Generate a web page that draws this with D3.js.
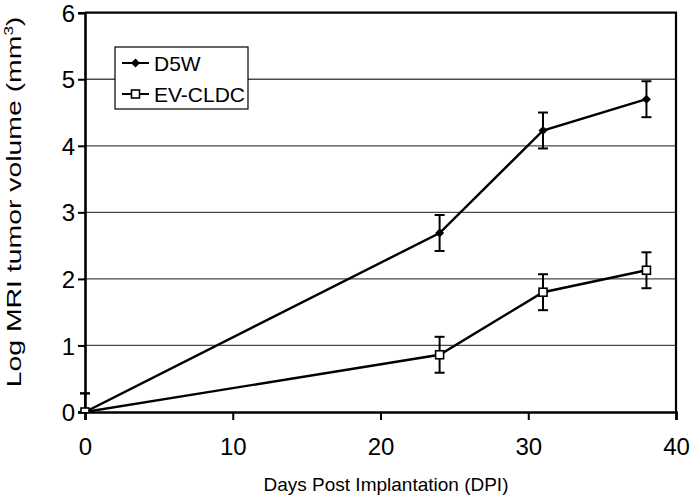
<!DOCTYPE html>
<html><head><meta charset="utf-8">
<script src="https://cdn.jsdelivr.net/npm/d3@7"></script>
<style>body{margin:0;background:#fff}svg{display:block}text{font-family:"Liberation Sans",Arial,sans-serif}</style>
</head><body>
<script>
const days = [0, 24, 31, 38];
const seriesNames = ["D5W", "EV-CLDC"];
const d5w = [0, 2.69, 4.23, 4.70];
const evcldc = [0, 0.86, 1.80, 2.13];
const d5wErr = [0.28, 0.27, 0.27, 0.27];
const evErr = [0.28, 0.27, 0.27, 0.27];
const xTicks = [0, 10, 20, 30, 40];
const yTicks = [0, 1, 2, 3, 4, 5, 6];

const W = 691, H = 497;
const m = {left: 85, right: 676, top: 12.7, bottom: 412};
const svg = d3.select("body").append("svg").attr("width", W).attr("height", H);
const x = d3.scaleLinear().domain([0, 40]).range([m.left, m.right]);
const y = d3.scaleLinear().domain([0, 6]).range([m.bottom, m.top]);

// gridlines
svg.append("g").selectAll("line").data(yTicks.filter(d => d > 0 && d < 6)).join("line")
  .attr("x1", m.left).attr("x2", m.right).attr("y1", d => y(d)).attr("y2", d => y(d))
  .attr("stroke", "#4a4a4a").attr("stroke-width", 1.3);

// frame top/right
svg.append("path").attr("d", `M${m.left},${m.top}H${m.right}V${m.bottom}`)
  .attr("fill", "none").attr("stroke", "#000").attr("stroke-width", 2.2);

// axes
const gx = svg.append("g").attr("transform", `translate(0,${m.bottom})`)
  .call(d3.axisBottom(x).tickValues(xTicks).tickFormat(d3.format("d")).tickSize(8).tickPadding(18));
const gy = svg.append("g").attr("transform", `translate(${m.left},0)`)
  .call(d3.axisLeft(y).tickValues(yTicks).tickFormat(d3.format("d")).tickSize(7).tickPadding(3));
[gx, gy].forEach(g => {
  g.select(".domain").attr("stroke", "#000").attr("stroke-width", 2.6);
  g.selectAll(".tick line").attr("stroke", "#000").attr("stroke-width", 2);
  g.selectAll(".tick text").attr("font-size", 24).attr("fill", "#000")
    .attr("font-family", "Liberation Sans, Arial, sans-serif");
});
gy.selectAll(".tick text").attr("dy", "0.36em");
gx.selectAll(".tick text").attr("dy", "0.71em");

// clip
svg.append("clipPath").attr("id", "clip").append("rect")
  .attr("x", m.left - 10).attr("y", 0).attr("width", m.right - m.left + 20).attr("height", m.bottom);

const series = [
  {name: seriesNames[0], vals: d5w, err: d5wErr, marker: "diamond"},
  {name: seriesNames[1], vals: evcldc, err: evErr, marker: "square"}
];
const line = d3.line().x(d => x(d[0])).y(d => y(d[1]));
const plot = svg.append("g").attr("clip-path", "url(#clip)");

function drawMarker(g, type, cx, cy) {
  if (type === "diamond") {
    g.append("path").attr("d", `M${cx},${cy-4.5}L${cx+4.5},${cy}L${cx},${cy+4.5}L${cx-4.5},${cy}Z`).attr("fill", "#000");
  } else {
    g.append("rect").attr("x", cx - 4).attr("y", cy - 4).attr("width", 8).attr("height", 8)
      .attr("fill", "#fff").attr("stroke", "#000").attr("stroke-width", 1.6);
  }
}

series.forEach(s => {
  const pts = days.map((d, i) => [d, s.vals[i]]);
  days.forEach((d, i) => {
    const cx = x(d), y1 = y(s.vals[i] + s.err[i]), y0 = Math.min(y(s.vals[i] - s.err[i]), m.bottom);
    plot.append("line").attr("x1", cx).attr("x2", cx).attr("y1", y1).attr("y2", y0).attr("stroke", "#000").attr("stroke-width", 2);
    plot.append("line").attr("x1", cx - 5).attr("x2", cx + 5).attr("y1", y1).attr("y2", y1).attr("stroke", "#000").attr("stroke-width", 2);
    if (y(s.vals[i] - s.err[i]) <= m.bottom)
      plot.append("line").attr("x1", cx - 5).attr("x2", cx + 5).attr("y1", y0).attr("y2", y0).attr("stroke", "#000").attr("stroke-width", 2);
  });
  plot.append("path").attr("d", line(pts)).attr("fill", "none").attr("stroke", "#000").attr("stroke-width", 2.4);
  pts.forEach(p => drawMarker(plot, s.marker, x(p[0]), y(p[1])));
});

// legend
const lg = svg.append("g");
lg.append("rect").attr("x", 115).attr("y", 47).attr("width", 133).attr("height", 62)
  .attr("fill", "#fff").attr("stroke", "#000").attr("stroke-width", 1.2);
series.forEach((s, i) => {
  const ly = 63 + i * 31;
  lg.append("line").attr("x1", 122).attr("x2", 149).attr("y1", ly).attr("y2", ly).attr("stroke", "#000").attr("stroke-width", 2);
  drawMarker(lg, s.marker, 135.5, ly);
  lg.append("text").attr("x", 154).attr("y", ly).attr("dy", "0.36em").attr("font-size", 21).text(s.name);
});

// axis titles
svg.append("text").attr("x", 386).attr("y", 491).attr("text-anchor", "middle").attr("font-size", 19)
  .text("Days Post Implantation (DPI)");
const yt = svg.append("text").attr("transform", "translate(21,202) rotate(-90) scale(1.42,1)").attr("text-anchor", "middle").attr("font-size", 20);
yt.append("tspan").text("Log MRI tumor volume (mm");
yt.append("tspan").attr("font-size", 12).attr("dy", -8).text("3");
yt.append("tspan").attr("dy", 8).text(")");
</script>
</body></html>
